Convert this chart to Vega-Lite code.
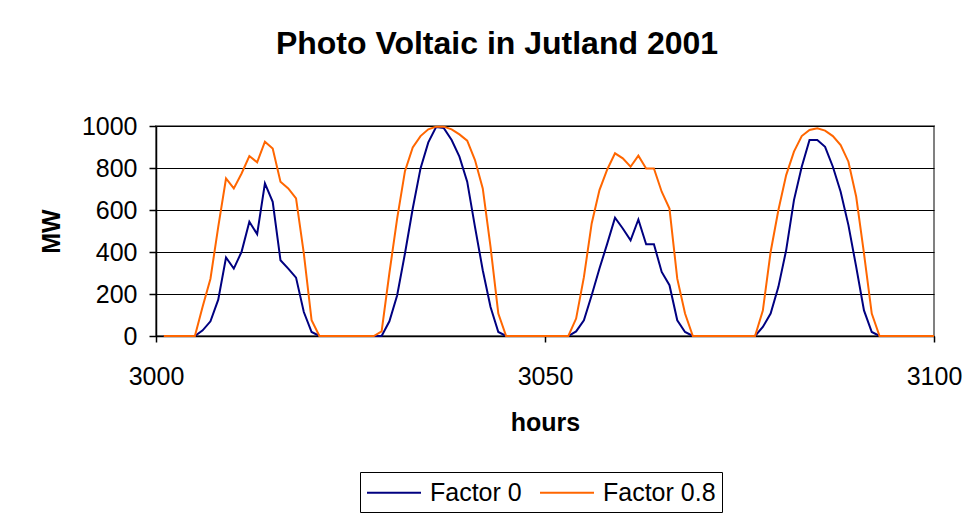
{
  "$schema": "https://vega.github.io/schema/vega-lite/v6.json",
  "width": 778,
  "height": 210,
  "autosize": "none",
  "padding": {"left": 156, "top": 126, "right": 40, "bottom": 181},
  "background": "white",
  "title": {
    "text": "Photo Voltaic in Jutland 2001",
    "font": "Liberation Sans",
    "fontSize": 32,
    "fontWeight": "bold",
    "color": "black",
    "anchor": "middle",
    "dx": -48,
    "offset": 53
  },
  "data": {
    "values": [
      {"hour": 3001, "f0": 0, "f8": 0},
      {"hour": 3002, "f0": 0, "f8": 0},
      {"hour": 3003, "f0": 0, "f8": 0},
      {"hour": 3004, "f0": 0, "f8": 0},
      {"hour": 3005, "f0": 0, "f8": 0},
      {"hour": 3006, "f0": 27, "f8": 140},
      {"hour": 3007, "f0": 70, "f8": 273},
      {"hour": 3008, "f0": 173, "f8": 520},
      {"hour": 3009, "f0": 374, "f8": 750},
      {"hour": 3010, "f0": 321, "f8": 703},
      {"hour": 3011, "f0": 401, "f8": 774},
      {"hour": 3012, "f0": 544, "f8": 857},
      {"hour": 3013, "f0": 485, "f8": 827},
      {"hour": 3014, "f0": 727, "f8": 925},
      {"hour": 3015, "f0": 639, "f8": 893},
      {"hour": 3016, "f0": 361, "f8": 735},
      {"hour": 3017, "f0": 321, "f8": 703},
      {"hour": 3018, "f0": 278, "f8": 655},
      {"hour": 3019, "f0": 114, "f8": 393},
      {"hour": 3020, "f0": 19, "f8": 75},
      {"hour": 3021, "f0": 0, "f8": 0},
      {"hour": 3022, "f0": 0, "f8": 0},
      {"hour": 3023, "f0": 0, "f8": 0},
      {"hour": 3024, "f0": 0, "f8": 0},
      {"hour": 3025, "f0": 0, "f8": 0},
      {"hour": 3026, "f0": 0, "f8": 0},
      {"hour": 3027, "f0": 0, "f8": 0},
      {"hour": 3028, "f0": 0, "f8": 0},
      {"hour": 3029, "f0": 0, "f8": 22},
      {"hour": 3030, "f0": 70, "f8": 300},
      {"hour": 3031, "f0": 194, "f8": 560},
      {"hour": 3032, "f0": 393, "f8": 785},
      {"hour": 3033, "f0": 607, "f8": 898},
      {"hour": 3034, "f0": 798, "f8": 952},
      {"hour": 3035, "f0": 922, "f8": 984},
      {"hour": 3036, "f0": 995, "f8": 997},
      {"hour": 3037, "f0": 990, "f8": 997},
      {"hour": 3038, "f0": 933, "f8": 984},
      {"hour": 3039, "f0": 854, "f8": 960},
      {"hour": 3040, "f0": 735, "f8": 930},
      {"hour": 3041, "f0": 520, "f8": 838},
      {"hour": 3042, "f0": 313, "f8": 703},
      {"hour": 3043, "f0": 138, "f8": 424},
      {"hour": 3044, "f0": 19, "f8": 107},
      {"hour": 3045, "f0": 0, "f8": 0},
      {"hour": 3046, "f0": 0, "f8": 0},
      {"hour": 3047, "f0": 0, "f8": 0},
      {"hour": 3048, "f0": 0, "f8": 0},
      {"hour": 3049, "f0": 0, "f8": 0},
      {"hour": 3050, "f0": 0, "f8": 0},
      {"hour": 3051, "f0": 0, "f8": 0},
      {"hour": 3052, "f0": 0, "f8": 0},
      {"hour": 3053, "f0": 0, "f8": 0},
      {"hour": 3054, "f0": 22, "f8": 83},
      {"hour": 3055, "f0": 75, "f8": 280},
      {"hour": 3056, "f0": 194, "f8": 536},
      {"hour": 3057, "f0": 321, "f8": 695},
      {"hour": 3058, "f0": 440, "f8": 793},
      {"hour": 3059, "f0": 563, "f8": 870},
      {"hour": 3060, "f0": 512, "f8": 846},
      {"hour": 3061, "f0": 456, "f8": 806},
      {"hour": 3062, "f0": 555, "f8": 859},
      {"hour": 3063, "f0": 437, "f8": 798},
      {"hour": 3064, "f0": 437, "f8": 798},
      {"hour": 3065, "f0": 305, "f8": 687},
      {"hour": 3066, "f0": 242, "f8": 607},
      {"hour": 3067, "f0": 75, "f8": 273},
      {"hour": 3068, "f0": 19, "f8": 107},
      {"hour": 3069, "f0": 0, "f8": 0},
      {"hour": 3070, "f0": 0, "f8": 0},
      {"hour": 3071, "f0": 0, "f8": 0},
      {"hour": 3072, "f0": 0, "f8": 0},
      {"hour": 3073, "f0": 0, "f8": 0},
      {"hour": 3074, "f0": 0, "f8": 0},
      {"hour": 3075, "f0": 0, "f8": 0},
      {"hour": 3076, "f0": 0, "f8": 0},
      {"hour": 3077, "f0": 0, "f8": 0},
      {"hour": 3078, "f0": 43, "f8": 121},
      {"hour": 3079, "f0": 107, "f8": 400},
      {"hour": 3080, "f0": 234, "f8": 600},
      {"hour": 3081, "f0": 409, "f8": 766},
      {"hour": 3082, "f0": 647, "f8": 878},
      {"hour": 3083, "f0": 806, "f8": 952},
      {"hour": 3084, "f0": 933, "f8": 981},
      {"hour": 3085, "f0": 933, "f8": 989},
      {"hour": 3086, "f0": 901, "f8": 978},
      {"hour": 3087, "f0": 806, "f8": 952},
      {"hour": 3088, "f0": 687, "f8": 909},
      {"hour": 3089, "f0": 528, "f8": 830},
      {"hour": 3090, "f0": 329, "f8": 663},
      {"hour": 3091, "f0": 122, "f8": 393},
      {"hour": 3092, "f0": 19, "f8": 107},
      {"hour": 3093, "f0": 0, "f8": 0},
      {"hour": 3094, "f0": 0, "f8": 0},
      {"hour": 3095, "f0": 0, "f8": 0},
      {"hour": 3096, "f0": 0, "f8": 0},
      {"hour": 3097, "f0": 0, "f8": 0},
      {"hour": 3098, "f0": 0, "f8": 0},
      {"hour": 3099, "f0": 0, "f8": 0},
      {"hour": 3100, "f0": 0, "f8": 0}
    ]
  },
  "transform": [{"fold": ["f0", "f8"], "as": ["series", "mw"]}],
  "mark": {"type": "line", "strokeWidth": 2},
  "encoding": {
    "x": {
      "field": "hour",
      "type": "quantitative",
      "scale": {"domain": [3000, 3100], "nice": false, "zero": false},
      "axis": {
        "values": [3000, 3050, 3100],
        "title": "hours",
        "grid": false,
        "format": "d",
        "tickSize": 6,
        "labelFlush": false,
        "labelBound": false,
        "labelOverlap": false,
        "labelPadding": 22,
        "titlePadding": 21
      }
    },
    "y": {
      "field": "mw",
      "type": "quantitative",
      "scale": {"domain": [0, 1000], "nice": false},
      "axis": {
        "values": [0, 200, 400, 600, 800, 1000],
        "title": "MW",
        "grid": true,
        "format": "d",
        "tickSize": 7,
        "labelPadding": 12,
        "labelFlush": false,
        "labelBound": false,
        "titleX": -92,
        "titleY": 105,
        "titleAngle": -90,
        "titleBaseline": "bottom",
        "titleAlign": "center"
      }
    },
    "color": {
      "field": "series",
      "type": "nominal",
      "scale": {"domain": ["f0", "f8"], "range": ["#000080", "#FF6600"]},
      "legend": {
        "orient": "none",
        "legendX": 204,
        "legendY": 346,
        "direction": "horizontal",
        "title": null,
        "labelExpr": "datum.label == 'f0' ? 'Factor 0' : 'Factor 0.8'",
        "symbolType": "M-1,0H3",
        "symbolSize": 729,
        "symbolStrokeWidth": 2,
        "labelFont": "Liberation Sans",
        "labelFontSize": 25,
        "labelColor": "black",
        "labelOffset": 35,
        "columnPadding": 14,
        "strokeColor": "black",
        "padding": 6,
        "fillColor": "white"
      }
    }
  },
  "config": {
    "view": {"stroke": "#808080", "strokeWidth": 2},
    "axis": {
      "domainColor": "black",
      "domainWidth": 1.5,
      "tickColor": "black",
      "tickWidth": 1.5,
      "gridColor": "#000000",
      "gridWidth": 1,
      "labelFont": "Liberation Sans",
      "labelFontSize": 25,
      "labelColor": "black",
      "titleFont": "Liberation Sans",
      "titleFontSize": 25,
      "titleFontWeight": "bold",
      "titleColor": "black"
    }
  }
}
